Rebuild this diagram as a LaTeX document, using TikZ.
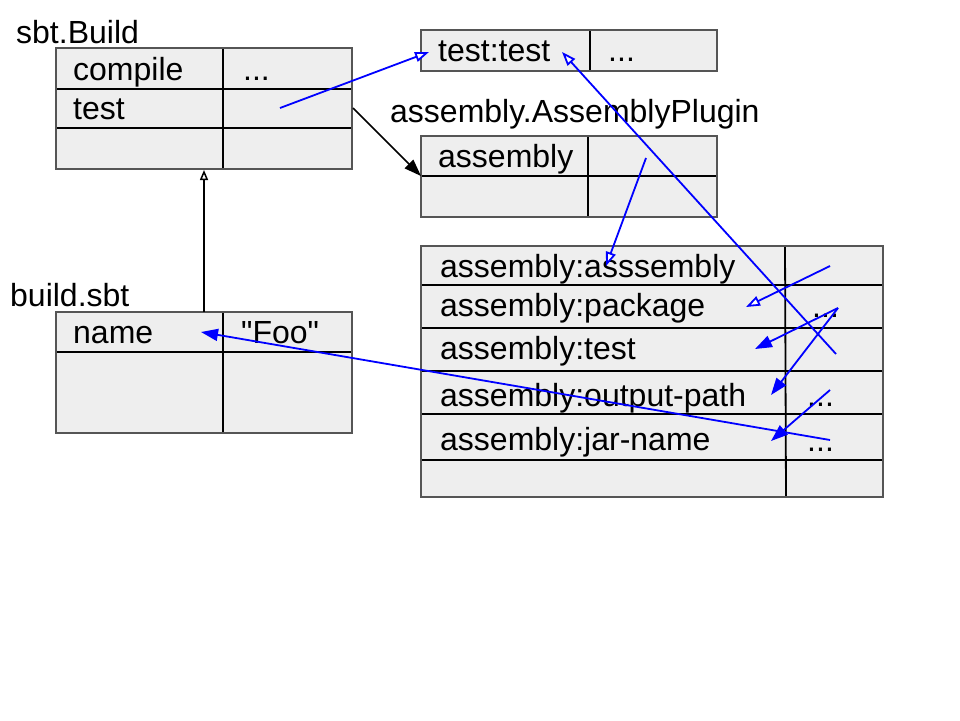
\documentclass[tikz,border=0pt]{standalone}
\usepackage{fontspec}
\setmainfont{Liberation Sans}
\newfontfamily\plainsans{Liberation Sans}
\usetikzlibrary{arrows.meta}
\definecolor{boxfill}{HTML}{EEEEEE}
\definecolor{framegray}{HTML}{555555}
\begin{document}
\begin{tikzpicture}[x=1pt,y=-1pt,
  txt/.style={anchor=base west, inner sep=0pt, font=\plainsans\fontsize{32}{38}\selectfont},
  inner/.style={draw=black, line width=1.8pt},
  frame/.style={draw=framegray, line width=2.2pt},
  blueline/.style={draw=blue, line width=1.8pt},
  opentip/.style={-{Triangle[open,length=14pt,width=10pt,fill=white]}},
  filltip/.style={-{Triangle[length=17pt,width=12pt]}},
  blackopen/.style={-{Triangle[open,length=10pt,width=8pt,fill=white]}},
]
\useasboundingbox (0,0) rectangle (960,720);
\fill[white] (0,0) rectangle (960,720);

% ---------- sbt.Build ----------
\fill[boxfill] (56,48) rectangle (352,169);
\draw[inner] (56,89) -- (352,89) (56,128) -- (352,128) (223,48) -- (223,169);
\draw[frame] (56,48) rectangle (352,169);
\node[txt] (lsbt) at (16,43) {sbt.Build};
\node[txt] (tcompile) at (73,80) {compile};
\node[txt] (tdots1) at (243,80) {...};
\node[txt] (ttest) at (73,119) {test};

% ---------- test:test ----------
\fill[boxfill] (421,30) rectangle (717,71);
\draw[inner] (590,30) -- (590,71);
\draw[frame] (421,30) rectangle (717,71);
\node[txt] (ttt) at (438,61) {test:test};
\node[txt] (tdots2) at (608,61) {...};

% ---------- assembly.AssemblyPlugin ----------
\node[txt] (lplug) at (390,122) {assembly.AssemblyPlugin};
\fill[boxfill] (421,136) rectangle (717,217);
\draw[inner] (421,176) -- (717,176) (588,136) -- (588,217);
\draw[frame] (421,136) rectangle (717,217);
\node[txt] (tasm) at (438,167) {assembly};

% ---------- big table ----------
\fill[boxfill] (421,246) rectangle (883,497);
\draw[inner] (421,285) -- (883,285) (421,328) -- (883,328) (421,371) -- (883,371)
  (421,414) -- (883,414) (421,460) -- (883,460) (785,246) -- (786,497);
\draw[frame] (421,246) rectangle (883,497);
\node[txt] (r1) at (440,277) {assembly:asssembly};
\node[txt] (r2) at (440,316) {assembly:package};
\node[txt] (r3) at (440,359) {assembly:test};
\node[txt] (r4) at (440,406) {assembly:output-path};
\node[txt] (r5) at (440,450) {assembly:jar-name};
\node[txt] (d2) at (812,317) {...};
\node[txt] (d4) at (807,406) {...};
\node[txt] (d5) at (807,451) {...};

% ---------- build.sbt ----------
\node[txt] (lbuild) at (10,306) {build.sbt};
\fill[boxfill] (56,312) rectangle (352,433);
\draw[inner] (56,352) -- (352,352) (223,312) -- (223,433);
\draw[frame] (56,312) rectangle (352,433);
\node[txt] (tname) at (73,343) {name};
\node[txt] (tfoo) at (241,343) {"Foo"};

% ---------- connector end points ----------
\coordinate (sbtTestVal) at (280,108);
\coordinate (testtestIn) at (429,52);
\coordinate (testtestIn2) at (562,52);
\coordinate (sbtRight) at (353,108);
\coordinate (asmCorner) at (421,176);
\coordinate (asmVal) at (646,158);
\coordinate (r1In) at (606,266);
\coordinate (r1Val) at (830,266);
\coordinate (r2In) at (746,307);
\coordinate (r2Val) at (838,308);
\coordinate (r3In) at (755,349);
\coordinate (r3Val) at (836,354);
\coordinate (r4In) at (771,395);
\coordinate (r4Val) at (830,390);
\coordinate (r5In) at (771,441);
\coordinate (r5Val) at (830,440);
\coordinate (nameIn) at (201,332);
\coordinate (buildTop) at (204,312);
\coordinate (sbtBottom) at (204,170);

% ---------- connectors ----------
\draw[line width=1.5pt, blackopen] (buildTop) -- (sbtBottom);
\draw[line width=1.5pt, filltip] (sbtRight) -- (asmCorner);
\draw[blueline, opentip] (sbtTestVal) -- (testtestIn);
\draw[blueline, opentip] (asmVal) -- (r1In);
\draw[blueline, opentip] (r1Val) -- (r2In);
\draw[blueline, opentip] (r3Val) -- (testtestIn2);
\draw[blueline, filltip, fill=blue] (r2Val) -- (r3In);
\draw[blueline, filltip, fill=blue] (r2Val) -- (r4In);
\draw[blueline, filltip, fill=blue] (r4Val) -- (r5In);
\draw[blueline, filltip, fill=blue] (r5Val) -- (nameIn);
\end{tikzpicture}
\end{document}
